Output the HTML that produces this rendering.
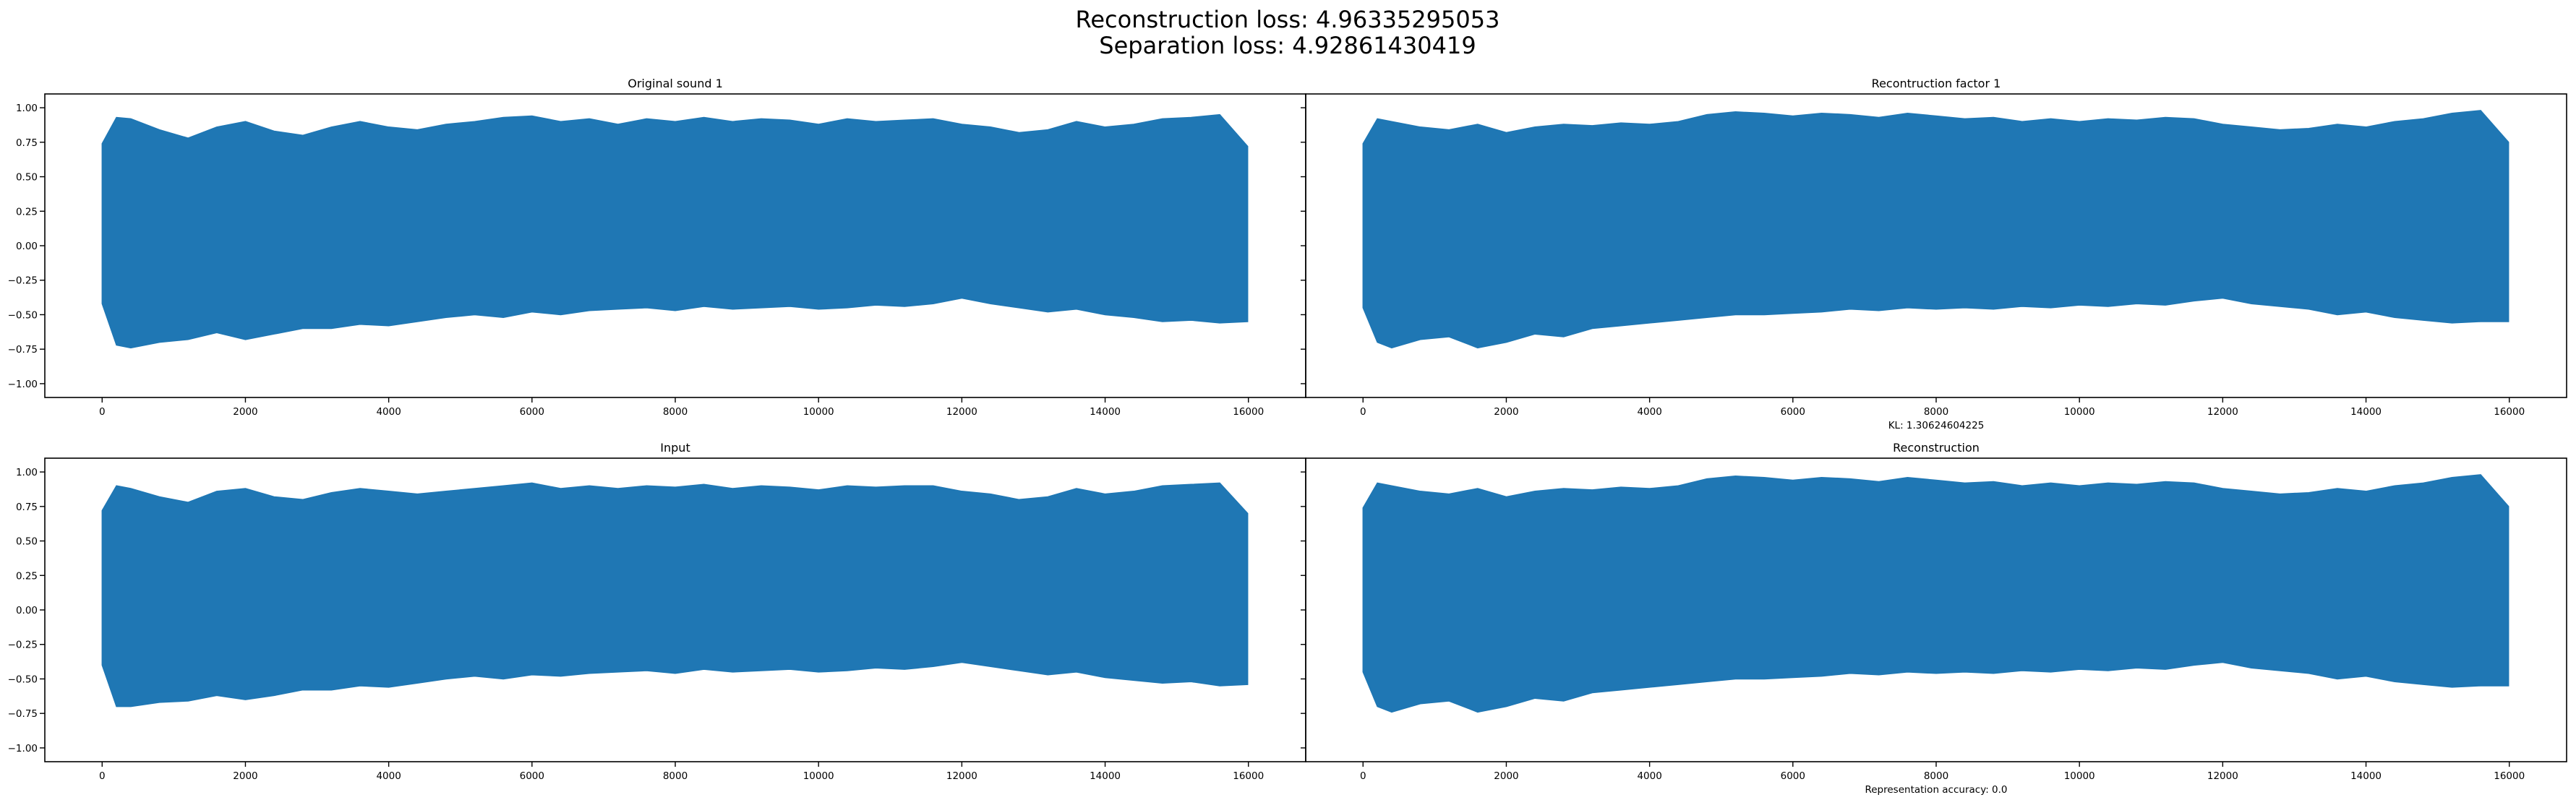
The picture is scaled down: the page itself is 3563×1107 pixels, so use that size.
<!DOCTYPE html>
<html><head><meta charset="utf-8"><style>
html,body{margin:0;padding:0;background:#fff;}
svg{display:block;font-family:"DejaVu Sans","Liberation Sans",sans-serif;}
</style></head><body>
<svg id="fig" width="3563" height="1107" viewBox="0 0 3563 1107">
<text x="1781" y="38" font-size="32" text-anchor="middle">Reconstruction loss: 4.96335295053</text>
<text x="1781" y="74" font-size="32" text-anchor="middle">Separation loss: 4.92861430419</text>
<g id="plots"></g>
</svg>
<script>
const sampleX = [0,200,400,800,1200,1600,2000,2400,2800,3200,3600,4000,4400,4800,5200,5600,6000,6400,6800,7200,7600,8000,8400,8800,9200,9600,10000,10400,10800,11200,11600,12000,12400,12800,13200,13600,14000,14400,14800,15200,15600,15990];
const xTicks = [0,2000,4000,6000,8000,10000,12000,14000,16000];
const yTicks = [1.00,0.75,0.50,0.25,0.00,-0.25,-0.50,-0.75,-1.00];
const yTickLabels = ["1.00","0.75","0.50","0.25","0.00","\u22120.25","\u22120.50","\u22120.75","\u22121.00"];
const origUpper = [0.74,0.93,0.92,0.84,0.78,0.86,0.90,0.83,0.80,0.86,0.90,0.86,0.84,0.88,0.90,0.93,0.94,0.90,0.92,0.88,0.92,0.90,0.93,0.90,0.92,0.91,0.88,0.92,0.90,0.91,0.92,0.88,0.86,0.82,0.84,0.90,0.86,0.88,0.92,0.93,0.95,0.72];
const origLower = [-0.42,-0.72,-0.74,-0.70,-0.68,-0.63,-0.68,-0.64,-0.60,-0.60,-0.57,-0.58,-0.55,-0.52,-0.50,-0.52,-0.48,-0.50,-0.47,-0.46,-0.45,-0.47,-0.44,-0.46,-0.45,-0.44,-0.46,-0.45,-0.43,-0.44,-0.42,-0.38,-0.42,-0.45,-0.48,-0.46,-0.50,-0.52,-0.55,-0.54,-0.56,-0.55];
const recUpper = [0.74,0.92,0.90,0.86,0.84,0.88,0.82,0.86,0.88,0.87,0.89,0.88,0.90,0.95,0.97,0.96,0.94,0.96,0.95,0.93,0.96,0.94,0.92,0.93,0.90,0.92,0.90,0.92,0.91,0.93,0.92,0.88,0.86,0.84,0.85,0.88,0.86,0.90,0.92,0.96,0.98,0.75];
const recLower = [-0.45,-0.70,-0.74,-0.68,-0.66,-0.74,-0.70,-0.64,-0.66,-0.60,-0.58,-0.56,-0.54,-0.52,-0.50,-0.50,-0.49,-0.48,-0.46,-0.47,-0.45,-0.46,-0.45,-0.46,-0.44,-0.45,-0.43,-0.44,-0.42,-0.43,-0.40,-0.38,-0.42,-0.44,-0.46,-0.50,-0.48,-0.52,-0.54,-0.56,-0.55,-0.55];
const inUpper = [0.72,0.90,0.88,0.82,0.78,0.86,0.88,0.82,0.80,0.85,0.88,0.86,0.84,0.86,0.88,0.90,0.92,0.88,0.90,0.88,0.90,0.89,0.91,0.88,0.90,0.89,0.87,0.90,0.89,0.90,0.90,0.86,0.84,0.80,0.82,0.88,0.84,0.86,0.90,0.91,0.92,0.70];
const inLower = [-0.40,-0.70,-0.70,-0.67,-0.66,-0.62,-0.65,-0.62,-0.58,-0.58,-0.55,-0.56,-0.53,-0.50,-0.48,-0.50,-0.47,-0.48,-0.46,-0.45,-0.44,-0.46,-0.43,-0.45,-0.44,-0.43,-0.45,-0.44,-0.42,-0.43,-0.41,-0.38,-0.41,-0.44,-0.47,-0.45,-0.49,-0.51,-0.53,-0.52,-0.55,-0.54];

const NS = "http://www.w3.org/2000/svg";
const g = document.getElementById('plots');
function el(tag, attrs, parent){const e=document.createElementNS(NS,tag);for(const k in attrs)e.setAttribute(k,attrs[k]);(parent||g).appendChild(e);return e;}

const panels = [
 {name:'original-sound', title:'Original sound 1', x0:62, x1:1806, y0:130, y1:550, up:origUpper, lo:origLower, labels:true},
 {name:'reconstruction-factor', title:'Recontruction factor 1', x0:1806, x1:3550, y0:130, y1:550, up:recUpper, lo:recLower, labels:false, xlabel:'KL: 1.30624604225'},
 {name:'input', title:'Input', x0:62, x1:1806, y0:634, y1:1054, up:inUpper, lo:inLower, labels:true},
 {name:'reconstruction', title:'Reconstruction', x0:1806, x1:3550, y0:634, y1:1054, up:recUpper, lo:recLower, labels:false, xlabel:'Representation accuracy: 0.0'}
];
const xmin=-800, xmax=16800, ymin=-1.1, ymax=1.1;
panels.forEach(p=>{
  const sx=v=>p.x0+(v-xmin)/(xmax-xmin)*(p.x1-p.x0);
  const sy=v=>p.y1-(v-ymin)/(ymax-ymin)*(p.y1-p.y0);
  const grp=el('g',{});
  
  
  let pts=[];
  for(let i=0;i<sampleX.length;i++){
    pts.push(sx(sampleX[i]).toFixed(1)+','+sy(p.up[i]).toFixed(1));
  }
  for(let i=sampleX.length-1;i>=0;i--){
    pts.push(sx(sampleX[i]).toFixed(1)+','+sy(p.lo[i]).toFixed(1));
  }
  const wf=el('polygon',{points:pts.join(' '),fill:'#1f77b4',stroke:'#1f77b4','stroke-width':1.5},grp);
  
  
  const fr=el('rect',{x:p.x0,y:p.y0,width:p.x1-p.x0,height:p.y1-p.y0,fill:'none',stroke:'#000','stroke-width':1.6},grp);
  
  
  xTicks.forEach(t=>{
    const x=sx(t);
    el('line',{x1:x,x2:x,y1:p.y1,y2:p.y1+7,stroke:'#000','stroke-width':1.4},grp);
    const tl=el('text',{x:x,y:p.y1+24,'font-size':13.5,'text-anchor':'middle'},grp);
    tl.textContent=t;
    
    
  });
  yTicks.forEach((t,i)=>{
    const y=sy(t);
    el('line',{x1:p.x0-7,x2:p.x0,y1:y,y2:y,stroke:'#000','stroke-width':1.4},grp);
    if(p.labels){
      const tl=el('text',{x:p.x0-10,y:y+5,'font-size':13.5,'text-anchor':'end'},grp);
      tl.textContent=yTickLabels[i];
      
      
    }
  });
  const ti=el('text',{x:(p.x0+p.x1)/2,y:p.y0-9,'font-size':16,'text-anchor':'middle'},grp);
  ti.textContent=p.title;
  
  
  if(p.xlabel){
    const xl=el('text',{x:(p.x0+p.x1)/2,y:p.y1+43,'font-size':13.5,'text-anchor':'middle'},grp);
    xl.textContent=p.xlabel;
    
    
  }
});
</script>
</body></html>
